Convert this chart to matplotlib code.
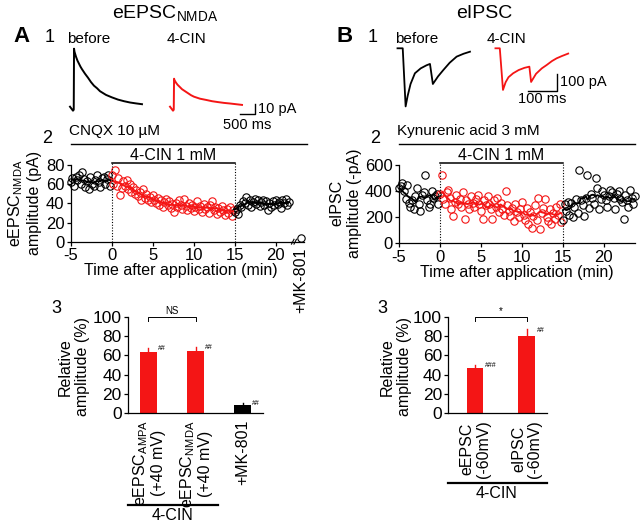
import numpy as np
import matplotlib
matplotlib.use('Agg')
import matplotlib.pyplot as plt
from matplotlib.lines import Line2D

plt.rcParams['font.family'] = ['Liberation Sans', 'DejaVu Sans']
plt.rcParams['mathtext.default'] = 'regular'
plt.rcParams['axes.unicode_minus'] = False
plt.rcParams['axes.linewidth'] = 0.9
plt.rcParams['xtick.major.width'] = 0.9
plt.rcParams['ytick.major.width'] = 0.9
plt.rcParams['xtick.major.size'] = 3
plt.rcParams['ytick.major.size'] = 3
plt.rcParams['xtick.major.pad'] = 1.5
plt.rcParams['ytick.major.pad'] = 1.5

RED = '#f41515'

# ---- A1 example traces (ms, pA) ----
trA_t = [0, 50, 100, 125, 135, 150, 200, 250, 300, 350, 400, 500, 600, 700, 800,
         900, 1000, 1200, 1400, 1600, 1800, 2000, 2200, 2400]
trA_before = [0, -2, -4, -3, 58, 55, 50, 46, 43, 40, 37.5, 33, 29, 24.6, 21,
              18.5, 15.5, 11.8, 9.3, 7.1, 5.5, 4.2, 3.3, 2.5]
trA_cin = [0, -2, -4, -3, 28, 26.5, 24, 22, 20.5, 19, 17.5, 15.5, 13.5, 11.5, 10,
           9, 8, 6.8, 5.5, 4.6, 3.8, 3.2, 2.5, 1.8]

# ---- B1 example traces (ms, pA) ----
trB_t_before = [0, 18, 28, 35, 45, 60, 80, 100, 112, 122, 140, 158, 180, 204, 228, 250]
trB_before = [0, 0, -342, -280, -210, -147, -118, -100, -92, -210, -165, -128, -85, -49, -32, -20]
trB_t_cin = [0, 15, 26, 35, 45, 61, 80, 100, 117, 123, 140, 160, 177, 195, 211, 230, 251]
trB_cin = [0, 0, -245, -200, -170, -147, -128, -115, -108, -198, -150, -118, -98, -75, -59, -45, -31]

# ---- A2 time course, one point every 0.2 min ----
step = 0.2
a2_pre = [62, 66, 58, 68, 64, 70, 60, 73, 65, 57, 63, 55, 67, 60, 58, 64, 70, 62, 57, 66,
          68, 60, 65, 70, 58]
a2_cin = [70, 60, 75, 58, 66, 49, 56, 63, 58, 64,
          55, 60, 52, 57, 50, 54, 48, 52, 44, 55,
          46, 50, 43, 47, 41, 49, 44, 40, 46, 38,
          43, 36, 41, 45, 38, 42, 35, 39, 31, 40,
          36, 44, 38, 34, 45, 37, 33, 40, 35, 38,
          32, 36, 42, 34, 37, 31, 39, 34, 36, 30,
          38, 42, 33, 36, 29, 35, 31, 37, 33, 28,
          34, 30, 36, 27, 33]
a2_post = [31, 34, 29, 38, 36, 42, 40, 47, 38, 44,
           36, 41, 45, 39, 43, 37, 41, 44, 38, 42,
           33, 40, 36, 42, 38, 44, 39, 41, 35, 43,
           40, 45, 38, 41]
a2_mk801 = 4

# ---- B2 time course ----
b2_pre = [420, 440, 460, 400, 340, 450, 310, 280, 330, 260, 360, 420, 300, 250, 370, 390,
          520, 330, 280, 300, 400, 350, 360, 380, 300]
b2_cin = [380, 520, 340, 300, 390, 410, 350, 260, 210, 320,
          370, 300, 340, 280, 390, 190, 330, 300, 260, 360,
          310, 280, 340, 370, 300, 250, 190, 330, 290, 360,
          300, 260, 190, 330, 280, 350, 240, 310, 260, 220,
          400, 290, 250, 210, 270, 170, 300, 240, 200, 260,
          320, 220, 180, 270, 150, 240, 120, 210, 290, 180,
          350, 110, 230, 270, 340, 200, 170, 260, 150, 230,
          190, 280, 220, 300, 160]
b2_post = [180, 300, 250, 320, 220, 310, 200, 280, 340, 230,
           560, 330, 290, 210, 350, 520, 270, 380, 350, 300,
           500, 420, 260, 340, 400, 370, 330, 280, 360, 410,
           390, 350, 260, 380, 400, 340, 320, 190, 370, 330,
           280, 410, 350, 300, 360]

# ---- bar summaries ----
a3_labels = ['eEPSC$_{AMPA}$\n(+40 mV)', 'eEPSC$_{NMDA}$\n(+40 mV)', '+MK-801']
a3_mean = [63, 64, 9]
a3_err = [5, 5, 2]
a3_sig = ['##', '##', '##']
a3_colors = [RED, RED, 'black']

b3_labels = ['eEPSC\n(-60mV)', 'eIPSC\n(-60mV)']
b3_mean = [47, 80]
b3_err = [3, 7]
b3_sig = ['###', '##']

W, H = 640, 524
fig = plt.figure(figsize=(6.4, 5.24), dpi=100)


def box(x0, y0, x1, y1):
    return [x0 / W, 1 - y1 / H, (x1 - x0) / W, (y1 - y0) / H]


def ftext(x, y, s, **kw):
    fig.text(x / W, 1 - y / H, s, **kw)


def fline(xs, ys, **kw):
    fig.add_artist(Line2D([x / W for x in xs], [1 - y / H for y in ys], **kw))


def smooth(v, k=4):
    v = np.asarray(v, float)
    return np.array([v[max(0, i - k):i + k + 1].mean() for i in range(len(v))])


# ---------- titles / panel letters ----------
ftext(165, 18, 'eEPSC$_{NMDA}$', fontsize=14, ha='center', va='baseline')
ftext(484, 18, 'eIPSC', fontsize=14, ha='center', va='baseline')
for x, s in [(22, 'A'), (345, 'B')]:
    ftext(x, 42, s, fontsize=16, fontweight='bold', ha='center', va='baseline')
for x in (50, 373):
    ftext(x, 42, '1', fontsize=13, ha='center', va='baseline')
ftext(67, 43, 'before', fontsize=11, va='baseline')
ftext(167, 43, '4-CIN', fontsize=11, va='baseline')
ftext(395, 43, 'before', fontsize=11, va='baseline')
ftext(487, 43, '4-CIN', fontsize=11, va='baseline')

# ---------- A1 traces ----------
axt = fig.add_axes(box(60, 40, 270, 130))
axt.axis('off')
axt.set_xlim(0, 7000)
axt.set_ylim(-23.3, 66.7)
axt.plot(np.array(trA_t) + 333, trA_before, color='black', lw=1.4)
axt.plot(np.array(trA_t) + 3667, trA_cin, color=RED, lw=1.4)
axt.plot([6000, 6500, 6500], [-7, -7, 3], color='black', lw=1)
ftext(258, 109, '10 pA', fontsize=10.5, va='center')
ftext(247, 125, '500 ms', fontsize=10.5, ha='center', va='center')

# ---------- B1 traces ----------
axt = fig.add_axes(box(390, 40, 590, 120))
axt.axis('off')
axt.set_xlim(0, 690)
axt.set_ylim(-421.8, 48.8)
axt.plot(np.array(trB_t_before) + 25.9, trB_before, color='black', lw=1.3)
axt.plot(np.array(trB_t_cin) + 363.8, trB_cin, color=RED, lw=1.3)
axt.plot([475.9, 575.9, 575.9], [-249.4, -249.4, -149.4], color='black', lw=1)
ftext(560, 82, '100 pA', fontsize=10.5, va='center')
ftext(542, 99, '100 ms', fontsize=10.5, ha='center', va='center')


# ---------- time courses ----------
def timecourse(rect, xlim, ylim, yticks, pre, cin, post, bar_y, cond, cond_x1, ylabel, ylab_x):
    ax = fig.add_axes(rect)
    t_pre = -5 + step * np.arange(len(pre))
    t_cin = step * np.arange(len(cin))
    t_post = 15 + step * np.arange(len(post))
    kw = dict(marker='o', ms=5.3, mfc='none', mew=0.8, ls='none', clip_on=False)
    ax.plot(t_pre, pre, mec='black', **kw)
    ax.plot(t_cin, cin, mec=RED, **kw)
    ax.plot(t_post, post, mec='black', **kw)
    ax.plot(t_pre, smooth(pre), color='black', lw=1.3)
    ax.plot(t_cin, smooth(cin), color=RED, lw=1.3)
    ax.plot(t_post, smooth(post), color='black', lw=1.3)
    ax.set_xlim(*xlim)
    ax.set_ylim(*ylim)
    ax.set_xticks([-5, 0, 5, 10, 15, 20])
    ax.set_yticks(yticks)
    ax.tick_params(labelsize=12)
    for s in ('top', 'right'):
        ax.spines[s].set_visible(False)
    for x in (0, 15):
        ax.plot([x, x], [ylim[0], bar_y], color='black', lw=0.8, ls=(0, (1, 1.5)), clip_on=False)
    ax.plot([0, 15], [bar_y, bar_y], color='black', lw=1.1, clip_on=False)
    ax.text(7.5, bar_y, '4-CIN 1 mM', fontsize=11.5, ha='center', va='bottom')
    ax.set_xlabel('Time after application (min)', fontsize=11.5, labelpad=0)
    x0 = rect[0] * W
    fline([x0, cond_x1], [144, 144], color='black', lw=1)
    ftext(x0 - 2, 135, cond, fontsize=11, va='baseline')
    ftext(x0 - 24, 143, '2', fontsize=13, ha='center', va='baseline')
    ftext(ylab_x, 203, ylabel, fontsize=11.5, rotation=90, ha='center', va='center',
          multialignment='center')
    return ax


axA2 = timecourse(box(70.7, 165, 290.7, 241.7), (-5, 21.8), (0, 80), [0, 20, 40, 60, 80],
                  a2_pre, a2_cin, a2_post, 81.8, 'CNQX 10 µM', 307,
                  'eEPSC$_{NMDA}$\namplitude (pA)', 24)
axA2.plot([23.1], [a2_mk801], marker='o', ms=5.3, mfc='none', mew=0.8, mec='black', clip_on=False)
axA2.plot([21.8, 23.4], [0, 0], color='black', lw=0.9, clip_on=False)
for xb in (22.05, 22.35):
    axA2.plot([xb - 0.15, xb + 0.15], [-2.5, 2.5], color='black', lw=0.8, clip_on=False)
ftext(301, 280, '+MK-801', fontsize=11.5, rotation=90, ha='center', va='center')

axB2 = timecourse(box(399, 165, 635, 243.3), (-5, 23.8), (0, 600), [0, 200, 400, 600],
                  b2_pre, b2_cin, b2_post, 613, 'Kynurenic acid 3 mM', 635,
                  'eIPSC\namplitude (-pA)', 346)


# ---------- bar charts ----------
def bars(rect, xlim, labels, mean, err, sig, colors, width, bracket, star, under_x1,
         under_y, cin_x, panel_x, ylab_x):
    ax = fig.add_axes(rect)
    pos = np.arange(len(mean))
    ax.bar(pos, mean, width=width, color=colors)
    for p, m, e, c, s in zip(pos, mean, err, colors, sig):
        ax.plot([p, p], [m, m + e], color=c, lw=1)
        ax.text(p + width / 2 + 0.03, m + e - 1, s, fontsize=5, va='center', ha='left')
        ax.text(p, -7, labels[p], fontsize=11.5, rotation=90, ha='center', va='top',
                linespacing=1.1)
    b0, b1 = bracket
    ax.plot([b0, b0, b1, b1], [96, 100, 100, 96], color='black', lw=0.7, clip_on=False)
    ax.text((b0 + b1) / 2, 101, star, fontsize=7, ha='center', va='bottom')
    ax.set_xlim(*xlim)
    ax.set_ylim(0, 100)
    ax.set_yticks([0, 20, 40, 60, 80, 100])
    ax.set_xticks([])
    ax.tick_params(labelsize=12.5)
    for s in ('top', 'right'):
        ax.spines[s].set_visible(False)
    ax.plot([xlim[0], under_x1], [under_y, under_y], color='black', lw=1.6, clip_on=False)
    ax.text(cin_x, under_y - 3, '4-CIN', fontsize=11.5, ha='center', va='top')
    ftext(panel_x, 313, '3', fontsize=13, ha='center', va='baseline')
    ftext(ylab_x, 367, 'Relative\namplitude (%)', fontsize=11.5, rotation=90,
          ha='center', va='center', multialignment='center')
    return ax


bars(box(128, 316.7, 263, 413.3), (-0.436, 2.436), a3_labels, a3_mean, a3_err, a3_sig,
     a3_colors, 0.36, (0, 1), 'NS', 1.48, -95, 0.52, 56, 74)
bars(box(448.3, 316.7, 546.7, 413.3), (-0.516, 1.387), b3_labels, b3_mean, b3_err, b3_sig,
     [RED, RED], 0.32, (0, 1), '*', 1.387, -72, 0.42, 382, 396)

fig.savefig('out.png', dpi=100)
